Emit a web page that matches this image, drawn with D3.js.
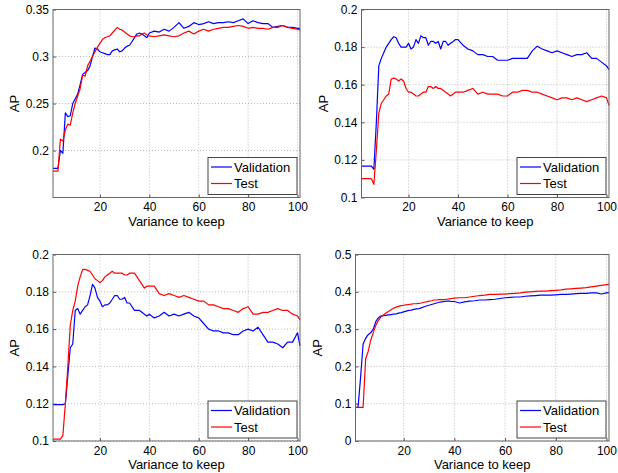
<!DOCTYPE html>
<html><head><meta charset="utf-8">
<script src="https://cdn.jsdelivr.net/npm/d3@7"></script>
<style>html,body{margin:0;padding:0;background:#fff;}svg{display:block;}</style>
</head><body>
<script>
// shared x grid: 1..40 step 1, 42..100 step 2, 101
const xs = d3.range(1, 41).concat(d3.range(42, 101, 2)).concat([101]);

const p1Validation = [0.181,0.181,0.181,0.200,0.197,0.240,0.236,0.237,0.250,0.255,0.260,0.270,0.281,0.283,0.285,0.290,0.300,0.309,0.308,0.305,
 0.304,0.303,0.302,0.302,0.306,0.307,0.308,0.305,0.306,0.309,0.311,0.312,0.316,0.320,0.324,0.325,0.324,0.322,0.320,0.325,
 0.327,0.326,0.329,0.327,0.331,0.336,0.330,0.332,0.336,0.334,0.335,0.337,0.335,0.336,0.336,0.337,0.336,0.338,0.340,0.335,0.338,0.336,0.335,0.335,0.331,0.332,0.333,0.331,0.331,0.330,
 0.330];
const p1Test = [0.178,0.178,0.178,0.212,0.210,0.222,0.228,0.227,0.240,0.250,0.258,0.266,0.280,0.279,0.290,0.295,0.300,0.305,0.310,0.314,
 0.318,0.320,0.321,0.322,0.325,0.328,0.331,0.329,0.328,0.326,0.324,0.322,0.321,0.321,0.322,0.322,0.324,0.325,0.323,0.322,
 0.321,0.322,0.323,0.322,0.321,0.322,0.325,0.327,0.324,0.327,0.329,0.327,0.329,0.330,0.331,0.331,0.332,0.333,0.332,0.330,0.331,0.330,0.330,0.329,0.331,0.331,0.333,0.331,0.330,0.329,
 0.328];

const p2Validation = [0.1167,0.1167,0.1167,0.1167,0.1167,0.115,0.140,0.170,0.174,0.177,0.180,0.182,0.184,0.1855,0.185,0.182,0.180,0.180,0.180,0.182,
 0.179,0.180,0.184,0.182,0.186,0.185,0.185,0.181,0.183,0.183,0.182,0.183,0.179,0.183,0.183,0.181,0.182,0.183,0.184,0.184,
 0.181,0.179,0.178,0.176,0.176,0.175,0.175,0.173,0.173,0.173,0.174,0.174,0.174,0.174,0.178,0.1805,0.179,0.178,0.177,0.178,0.177,0.176,0.175,0.176,0.176,0.177,0.174,0.174,0.172,0.170,
 0.168];
const p2Test = [0.110,0.110,0.110,0.110,0.110,0.107,0.125,0.145,0.150,0.152,0.154,0.155,0.163,0.1635,0.163,0.162,0.163,0.162,0.158,0.156,
 0.156,0.155,0.154,0.154,0.155,0.156,0.156,0.159,0.159,0.158,0.159,0.158,0.158,0.157,0.156,0.155,0.154,0.155,0.156,0.156,
 0.156,0.157,0.158,0.155,0.156,0.155,0.155,0.155,0.154,0.154,0.156,0.156,0.157,0.157,0.156,0.156,0.155,0.154,0.153,0.152,0.153,0.153,0.152,0.153,0.152,0.151,0.152,0.153,0.154,0.153,
 0.149];

const p3Validation = [0.1195,0.1195,0.1195,0.1195,0.1195,0.120,0.135,0.150,0.152,0.170,0.171,0.168,0.170,0.172,0.173,0.178,0.184,0.182,0.177,0.175,
 0.172,0.173,0.173,0.174,0.176,0.178,0.178,0.176,0.176,0.177,0.174,0.174,0.172,0.170,0.170,0.170,0.169,0.168,0.167,0.168,
 0.166,0.167,0.169,0.167,0.168,0.167,0.168,0.169,0.167,0.166,0.163,0.160,0.159,0.159,0.158,0.158,0.157,0.157,0.159,0.160,0.159,0.161,0.157,0.153,0.153,0.152,0.150,0.153,0.153,0.158,
 0.151];
const p3Test = [0.101,0.101,0.101,0.101,0.103,0.120,0.140,0.162,0.170,0.175,0.183,0.188,0.192,0.192,0.1915,0.191,0.189,0.187,0.186,0.185,
 0.186,0.188,0.189,0.190,0.191,0.190,0.190,0.190,0.190,0.189,0.189,0.190,0.190,0.190,0.188,0.186,0.184,0.182,0.183,0.183,
 0.183,0.179,0.178,0.179,0.178,0.177,0.178,0.177,0.176,0.175,0.175,0.173,0.173,0.172,0.171,0.171,0.170,0.169,0.171,0.172,0.168,0.168,0.169,0.169,0.170,0.171,0.170,0.170,0.168,0.167,
 0.165];

const p4Validation = [0.09,0.09,0.17,0.26,0.275,0.285,0.29,0.30,0.32,0.33,0.335,0.336,0.337,0.338,0.339,0.34,0.341,0.343,0.344,0.346,
 0.348,0.350,0.351,0.353,0.354,0.355,0.357,0.360,0.362,0.364,0.366,0.368,0.370,0.372,0.373,0.374,0.375,0.375,0.374,0.374,
 0.370,0.373,0.375,0.376,0.378,0.378,0.379,0.380,0.382,0.384,0.385,0.386,0.386,0.388,0.389,0.390,0.391,0.391,0.391,0.392,0.393,0.393,0.394,0.395,0.396,0.396,0.397,0.397,0.394,0.397,
 0.398];
const p4Test = [0.09,0.09,0.09,0.09,0.22,0.24,0.27,0.29,0.31,0.323,0.332,0.338,0.343,0.347,0.352,0.356,0.359,0.361,0.363,0.364,
 0.365,0.366,0.367,0.368,0.368,0.369,0.370,0.372,0.373,0.375,0.376,0.378,0.378,0.379,0.379,0.379,0.380,0.381,0.382,0.383,
 0.384,0.384,0.386,0.388,0.390,0.391,0.393,0.393,0.394,0.394,0.395,0.396,0.397,0.399,0.400,0.401,0.402,0.402,0.403,0.404,0.405,0.407,0.408,0.409,0.410,0.411,0.413,0.415,0.417,0.419,
 0.420];

const xTicks = [20, 40, 60, 80, 100];
const p1YTicks = [0.2, 0.25, 0.3, 0.35];
const p2YTicks = [0.1, 0.12, 0.14, 0.16, 0.18, 0.2];
const p3YTicks = [0.1, 0.12, 0.14, 0.16, 0.18, 0.2];
const p4YTicks = [0, 0.1, 0.2, 0.3, 0.4, 0.5];
const seriesNames = ["Validation", "Test"];
const seriesColors = ["#0000ff", "#ff0000"];
const xLabel = "Variance to keep";
const yLabel = "AP";

const panels = [
  {box:[53, 300, 9.5, 197.5], ydom:[0.15, 0.35], yt:p1YTicks, v:p1Validation, t:p1Test},
  {box:[361.5, 609, 9.5, 197.5], ydom:[0.1, 0.2], yt:p2YTicks, v:p2Validation, t:p2Test},
  {box:[53, 300, 254.5, 441], ydom:[0.1, 0.2], yt:p3YTicks, v:p3Validation, t:p3Test},
  {box:[355.5, 609, 254.5, 441], ydom:[0, 0.5], yt:p4YTicks, v:p4Validation, t:p4Test}
];

const svg = d3.select("body").append("svg").attr("width", 618).attr("height", 473)
  .style("font-family", "Liberation Sans, Arial, Helvetica, sans-serif");

panels.forEach(p => {
  const [l, r, t, b] = p.box;
  const x = d3.scaleLinear().domain([1, 101]).range([l, r]);
  const y = d3.scaleLinear().domain(p.ydom).range([b, t]);
  const g = svg.append("g");

  // grid
  g.append("g").selectAll("line").data(xTicks).join("line")
    .attr("x1", d => x(d)).attr("x2", d => x(d)).attr("y1", t).attr("y2", b)
    .attr("stroke", "#aaa").attr("stroke-width", 0.8).attr("stroke-dasharray", "1,2");
  g.append("g").selectAll("line").data(p.yt).join("line")
    .attr("x1", l).attr("x2", r).attr("y1", d => y(d)).attr("y2", d => y(d))
    .attr("stroke", "#aaa").attr("stroke-width", 0.8).attr("stroke-dasharray", "1,2");

  // axes
  const xa = g.append("g").attr("transform", `translate(0,${b})`)
    .call(d3.axisBottom(x).tickValues(xTicks).tickSizeInner(-3).tickSizeOuter(0).tickPadding(5));
  const ya = g.append("g").attr("transform", `translate(${l},0)`)
    .call(d3.axisLeft(y).tickValues(p.yt).tickFormat(d => String(d)).tickSizeInner(-3).tickSizeOuter(0).tickPadding(4));
  [xa, ya].forEach(a => {
    a.select(".domain").remove();
    a.selectAll("line").attr("stroke", "#555");
    a.selectAll("text").attr("font-size", 12).attr("fill", "#000")
      .attr("font-family", "Liberation Sans, Arial, sans-serif");
  });

  // lines
  const line = d3.line().x((d, i) => x(xs[i])).y(d => y(d));
  [p.v, p.t].forEach((vals, k) => {
    g.append("path").datum(vals).attr("d", line)
      .attr("fill", "none").attr("stroke", seriesColors[k]).attr("stroke-width", 1.2)
      .attr("stroke-linejoin", "round");
  });

  // box
  g.append("rect").attr("x", l).attr("y", t).attr("width", r - l).attr("height", b - t)
    .attr("fill", "none").attr("stroke", "#666").attr("stroke-width", 1);

  // labels
  g.append("text").attr("x", (l + r) / 2).attr("y", b + 28).attr("text-anchor", "middle")
    .attr("font-size", 13).text(xLabel);
  g.append("text").attr("transform", `translate(${l - 34},${(t + b) / 2}) rotate(-90)`)
    .attr("text-anchor", "middle").attr("font-size", 13).text(yLabel);

  // legend
  const lw = 89, lh = 37;
  const lx = r - 3 - lw, ly = b - 3 - lh;
  const lg = g.append("g").attr("transform", `translate(${lx},${ly})`);
  lg.append("rect").attr("width", lw).attr("height", lh).attr("fill", "#fff")
    .attr("stroke", "#444").attr("stroke-width", 1);
  seriesNames.forEach((n, k) => {
    const yy = 9.5 + k * 16.5;
    lg.append("line").attr("x1", 3).attr("x2", 24).attr("y1", yy).attr("y2", yy)
      .attr("stroke", seriesColors[k]).attr("stroke-width", 1.2);
    lg.append("text").attr("x", 26).attr("y", yy + 4.5).attr("font-size", 13).text(n);
  });
});
</script>
</body></html>
